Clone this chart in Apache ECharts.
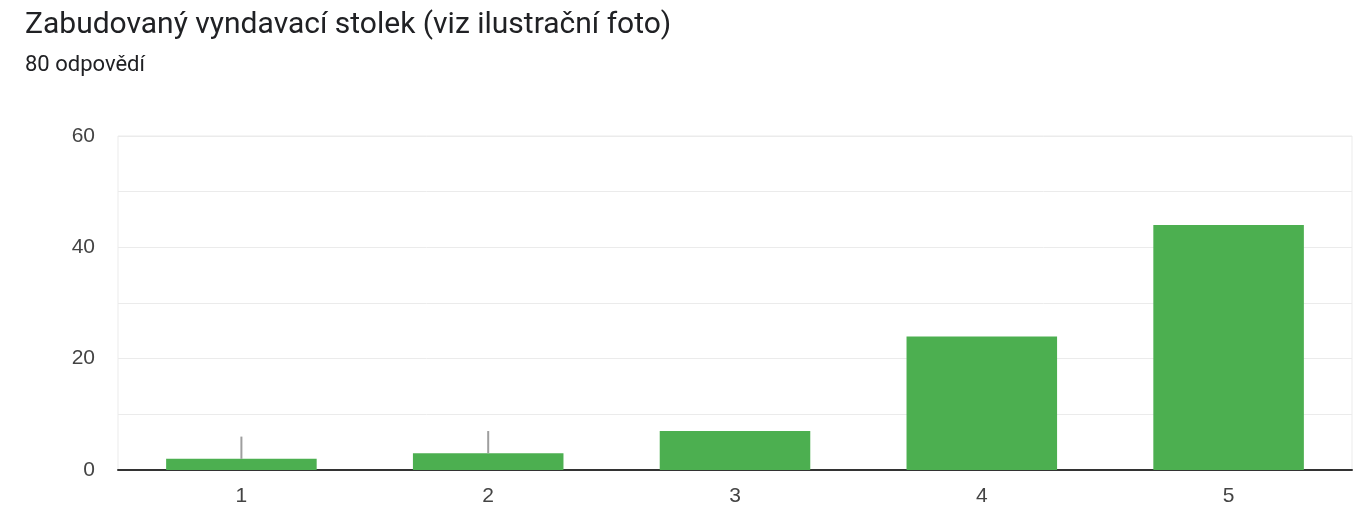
<!DOCTYPE html>
<html>
<head>
<meta charset="utf-8">
<script src="https://cdn.jsdelivr.net/npm/echarts@6/dist/echarts.min.js"></script>
<style>
  html, body { margin: 0; padding: 0; background: #fff; }
  #chart { width: 1367px; height: 507px; }
</style>
</head>
<body>
<div id="chart"></div>
<script>
const categories = ['1', '2', '3', '4', '5']
const responses = [2, 3, 7, 24, 44]
// short grey leader lines above the first two bars (value where they end)
const leaderTops = [6, 7, null, null, null]

const chart = echarts.init(document.getElementById('chart'))

const option = {
  backgroundColor: '#fff',
  animation: false,
  title: {
    text: 'Zabudovaný vyndavací stolek (viz ilustrační foto)',
    subtext: '80 odpovědí',
    left: 25,
    top: 10,
    padding: 0,
    itemGap: 14,
    textStyle: { fontFamily: 'Roboto', fontSize: 30, fontWeight: 'normal', color: '#202124' },
    subtextStyle: { fontFamily: 'Roboto', fontSize: 22, color: '#202124' }
  },
  grid: {
    left: 118, right: 15, top: 136, bottom: 36,
    show: true, borderColor: '#ebebeb', borderWidth: 1
  },
  xAxis: {
    type: 'category',
    data: categories,
    axisTick: { show: false },
    axisLine: { lineStyle: { color: '#333', width: 2 } },
    axisLabel: { margin: 16, fontFamily: 'Liberation Sans', fontSize: 21, color: '#444' }
  },
  yAxis: {
    type: 'value',
    min: 0, max: 60, interval: 10,
    axisLine: { show: false },
    axisTick: { show: false },
    splitLine: { lineStyle: { color: '#ebebeb', width: 1 } },
    axisLabel: {
      margin: 23, fontFamily: 'Liberation Sans', fontSize: 21, color: '#444',
      formatter: v => (v % 20 === 0 ? String(v) : '')
    }
  },
  series: [
    {
      type: 'bar',
      data: responses,
      barCategoryGap: '39%',
      itemStyle: { color: '#4caf50' }
    },
    {
      type: 'custom',
      z: 3,
      data: leaderTops.map((t, i) => [i, responses[i], t]),
      renderItem: (params, api) => {
        if (api.value(2) == null || isNaN(api.value(2))) return
        const p0 = api.coord([api.value(0), api.value(1)])
        const p1 = api.coord([api.value(0), api.value(2)])
        return {
          type: 'line',
          shape: { x1: p0[0], y1: p0[1], x2: p1[0], y2: p1[1] },
          style: { stroke: '#9e9e9e', lineWidth: 2 }
        }
      }
    }
  ]
}

chart.setOption(option)
</script>
</body>
</html>
